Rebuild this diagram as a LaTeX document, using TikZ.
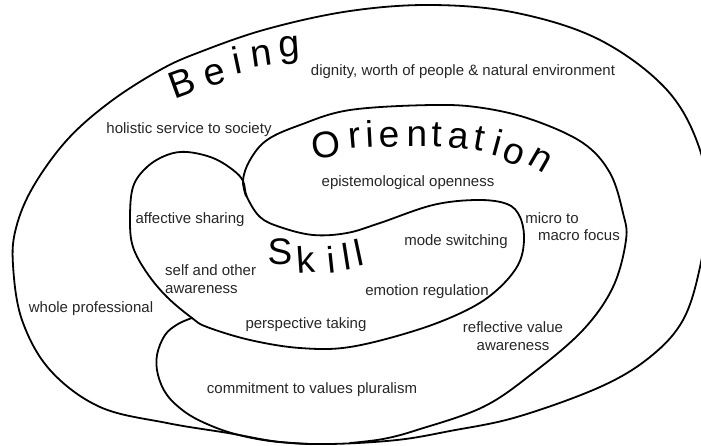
\documentclass[tikz,border=0pt]{standalone}
\usepackage{fontspec}
\setmainfont{Liberation Sans}
\begin{document}
\begin{tikzpicture}[x=1pt,y=-1pt,
  curve/.style={line width=1.8pt, line join=round, line cap=round},
  lbl/.style={font=\fontsize{15}{18}\selectfont, text=black!85, inner sep=0pt},
  bigletter/.style={anchor=base, inner sep=0pt, text=black},
  beingL/.style={bigletter, font=\fontsize{38}{38}\selectfont},
  orientL/.style={bigletter, font=\fontsize{37}{37}\selectfont},
  skillL/.style={bigletter, font=\fontsize{37}{37}\selectfont}]
\useasboundingbox (0,0) rectangle (701,446);
\clip (0,0) rectangle (701,446);

% outer (Being)
\draw[curve] plot[smooth cycle, tension=0.6] coordinates {
 (228,433) (167,423) (100,407) (50,370) (22,320) (13,265) (16,228) (33,187)
 (67,140) (110,102) (160,70) (200,52) (267,29) (350,11) (433,5) (517,13)
 (600,40) (667,90) (700,150) (707,210) (700,267) (683,320) (650,357)
 (600,387) (517,417) (450,431) (397,440) (330,444) (280,442)};

% skill loop
\draw[curve] plot[smooth cycle, tension=0.6] coordinates {
 (243,181) (247,197) (260,217) (280,227) (313,235) (347,233) (380,223)
 (433,205) (477,200) (507,204) (520,217) (524,240) (518,265) (497,290)
 (467,310) (417,330) (350,347) (300,348) (250,340) (207,327) (192,318)
 (167,297) (147,273) (133,247) (130,220) (133,187) (147,167) (167,155)
 (187,152) (213,158) (233,170)};

% orientation
\draw[curve] plot[smooth, tension=0.6] coordinates {
 (246,196) (243,180) (250,160) (267,140) (300,125) (350,110) (433,105)
 (483,108) (533,120) (583,143) (610,173) (623,213) (626,240) (613,287)
 (583,330) (533,373) (483,407) (417,430) (383,439) (350,443)};

% commitment
\draw[curve] plot[smooth, tension=0.6] coordinates {
 (192,318) (178,324) (165,335) (157,355) (158,375) (167,395) (185,412)
 (207,424) (235,434) (270,441) (310,444)};

% big words
\node[beingL, rotate=20] (b1) at (186,95) {B};
\node[beingL, rotate=16] (b2) at (218,85) {e};
\node[beingL, rotate=12] (b3) at (240,74) {i};
\node[beingL, rotate=8]  (b4) at (263,66) {n};
\node[beingL, rotate=4]  (b5) at (290,57) {g};

\node[orientL, rotate=8]   (o1) at (328,157) {O};
\node[orientL, rotate=5]   (o2) at (356,148) {r};
\node[orientL, rotate=3]   (o3) at (371,147) {i};
\node[orientL, rotate=2]   (o4) at (390,147) {e};
\node[orientL, rotate=0]   (o5) at (417,147) {n};
\node[orientL, rotate=-2]  (o6) at (437,147) {t};
\node[orientL, rotate=-5]  (o7) at (458,148) {a};
\node[orientL, rotate=-10] (o8) at (478,150) {t};
\node[orientL, rotate=-15] (o9) at (494,156) {i};
\node[orientL, rotate=-22] (o10) at (510,163) {o};
\node[orientL, rotate=-30] (o11) at (535,169) {n};

\node[skillL, rotate=0]  (s1) at (280,265) {S};
\node[skillL, rotate=4]  (s2) at (307,273) {k};
\node[skillL, rotate=6]  (s3) at (333,273) {i};
\node[skillL, rotate=9]  (s4) at (349,270) {l};
\node[skillL, rotate=12] (s5) at (362,266) {l};

% labels
\node[lbl] (t1) at (463,72) {dignity, worth of people \& natural environment};
\node[lbl] (t2) at (189,130) {holistic service to society};
\node[lbl] (t3) at (408,183) {epistemological openness};
\node[lbl] (t4) at (190,220) {affective sharing};
\node[lbl, anchor=west, align=left] (t5) at (165,279) {self and other\\awareness};
\node[lbl] (t6) at (91,309) {whole professional};
\node[lbl] (t7) at (306,325) {perspective taking};
\node[lbl] (t8) at (312,390) {commitment to values pluralism};
\node[lbl] (t9) at (456,242) {mode switching};
\node[lbl] (t10) at (427,292) {emotion regulation};
\node[lbl, align=center] (t11) at (513,336) {reflective value\\awareness};
\node[lbl] (t12) at (552,218) {micro to};
\node[lbl] (t13) at (579,235) {macro focus};
\end{tikzpicture}
\end{document}
